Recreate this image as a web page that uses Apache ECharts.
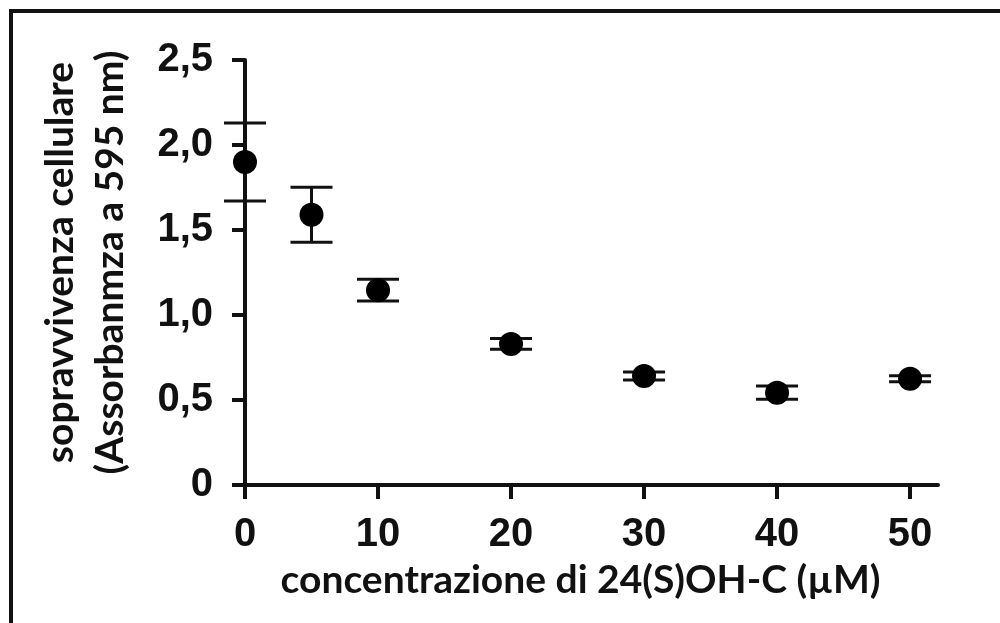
<!DOCTYPE html>
<html>
<head>
<meta charset="utf-8">
<style>
  html, body { margin: 0; padding: 0; background: #fff; }
  #wrap { position: relative; width: 1000px; height: 623px; overflow: hidden; }
  #chart { position: absolute; left: 0; top: 0; width: 1000px; height: 623px; }
  #frame { position: absolute; left: 9px; top: 9px; width: 1000px; height: 700px;
           border-top: 4px solid #111; border-left: 4px solid #111; pointer-events: none; }
</style>
<script src="https://cdn.jsdelivr.net/npm/echarts/dist/echarts.min.js"></script>
</head>
<body>
<div id="wrap">
  <div id="chart"></div>
  <div id="frame"></div>
</div>
<script>
// concentrazione (µM) e assorbanza media con errore
const concentrations = [0, 5, 10, 20, 30, 40, 50]
const means = [1.90, 1.59, 1.146, 0.83, 0.641, 0.543, 0.625]
const errors = [0.23, 0.162, 0.064, 0.032, 0.024, 0.039, 0.017]

const xTicks = [0, 10, 20, 30, 40, 50]
const yTickLabels = ['0', '0,5', '1,0', '1,5', '2,0', '2,5']

const chart = echarts.init(document.getElementById('chart'))

const labelFont = { fontFamily: 'Liberation Sans', fontWeight: 'bold', fontSize: 40, color: '#111' }
const titleFont = { fontFamily: 'Lato', fontWeight: 'bold', fontSize: 39, color: '#111' }
const axisStyle = { lineStyle: { color: '#111', width: 4 } }

chart.setOption({
  animation: false,
  grid: { left: 245, top: 60, width: 693, height: 425 },
  xAxis: {
    type: 'value',
    min: 0,
    max: 52.1,
    splitLine: { show: false },
    axisLine: axisStyle,
    axisTick: { show: true, length: 14, customValues: xTicks, lineStyle: { color: '#111', width: 4 } },
    axisLabel: { ...labelFont, margin: 30, customValues: xTicks },
    name: 'concentrazione di 24(S)OH-C (µM)',
    nameLocation: 'middle',
    nameGap: 76,
    nameTextStyle: { ...titleFont, padding: [0, 22, 0, 0] }
  },
  yAxis: {
    type: 'value',
    min: 0,
    max: 2.5,
    interval: 0.5,
    splitLine: { show: false },
    axisLine: axisStyle,
    axisTick: { show: true, length: 13, lineStyle: { color: '#111', width: 4 } },
    axisLabel: {
      ...labelFont,
      margin: 32,
      formatter: (v) => yTickLabels[Math.round(v / 0.5)]
    },
    name: 'sopravvivenza cellulare\n(Assorbanmza a 595 nm)',
    nameLocation: 'middle',
    nameRotate: 90,
    nameGap: 110,
    nameTextStyle: { ...titleFont, lineHeight: 50, padding: [0, 0, 0, 20] }
  },
  series: [
    {
      type: 'custom',
      clip: false,
      data: concentrations.map((c, i) => [c, means[i] - errors[i], means[i] + errors[i]]),
      encode: { x: 0, y: [1, 2] },
      renderItem: (params, api) => {
        const x = api.value(0)
        const lo = api.coord([x, api.value(1)])
        const hi = api.coord([x, api.value(2)])
        const half = 21
        const style = { stroke: '#111', lineWidth: 3 }
        return {
          type: 'group',
          children: [
            { type: 'line', shape: { x1: lo[0], y1: lo[1], x2: hi[0], y2: hi[1] }, style },
            { type: 'line', shape: { x1: hi[0] - half, y1: hi[1], x2: hi[0] + half, y2: hi[1] }, style },
            { type: 'line', shape: { x1: lo[0] - half, y1: lo[1], x2: lo[0] + half, y2: lo[1] }, style }
          ]
        }
      }
    },
    {
      type: 'scatter',
      symbol: 'circle',
      symbolSize: 24,
      itemStyle: { color: '#000', opacity: 1 },
      data: concentrations.map((c, i) => [c, means[i]]),
      z: 5
    }
  ]
})
</script>
</body>
</html>
